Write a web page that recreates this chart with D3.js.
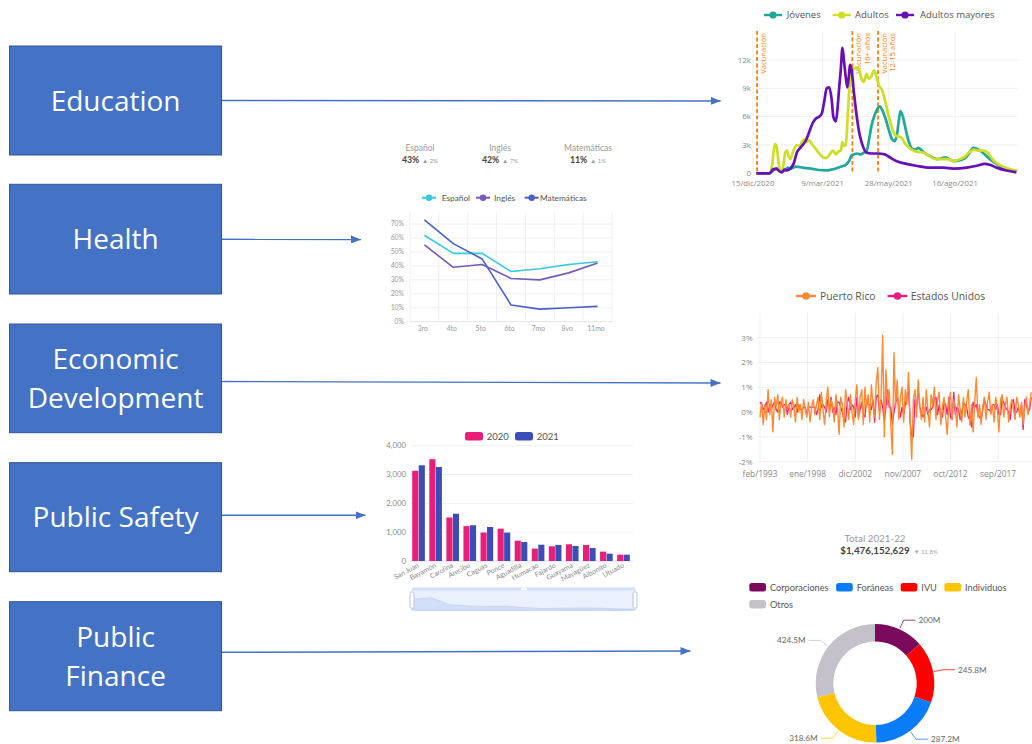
<!DOCTYPE html>
<html><head><meta charset="utf-8">
<script src="https://cdn.jsdelivr.net/npm/d3@7"></script>
<style>html,body{margin:0;padding:0;background:#fff}svg{display:block}</style>
</head><body>
<svg id="c" width="1032" height="744"></svg>
<script>
// ================= DATA =================
const sectorLabels = [["Education"],["Health"],["Economic","Development"],["Public Safety"],["Public","Finance"]];

// Education (vacunación COVID-19 por grupo de edad) — [días desde 15/dic/2020, miles]
const eduSeriesNames = ["Jóvenes","Adultos","Adultos mayores"];
const eduTickDays = [0,84,164,244];
const eduTickLabels = ["15/dic/2020","9/mar/2021","28/may/2021","16/ago/2021"];
const eduYTicks = [0,3,6,9,12];
const jovenes = [[4,0],[20,0],[26,0.4],[30,0.5],[34,0.25],[38,0.3],[42,0.6],[46,0.5],[52,0.7],[60,0.6],[70,0.5],[80,0.35],[88,0.3],[95,0.4],[100,0.5],[106,0.7],[112,0.9],[116,1.3],[119,1.9],[122,2.0],[126,2.1],[130,2.0],[134,2.2],[137,2.3],[140,3.5],[143,5.0],[147,6.2],[150,6.8],[153,7.1],[157,6.5],[160,5.8],[164,4.6],[168,3.6],[171,3.4],[174,4.2],[176,5.5],[178,6.6],[181,6.0],[184,4.8],[188,3.4],[192,2.6],[196,2.5],[200,2.7],[205,2.3],[210,2.0],[214,1.8],[222,1.5],[228,1.6],[232,1.7],[237,1.5],[242,1.3],[250,1.4],[256,1.6],[260,2.0],[263,2.4],[266,2.7],[270,2.6],[274,2.4],[280,2.0],[286,1.5],[294,1.0],[300,0.7],[306,0.5],[312,0.35],[319,0.25]];
const adultos = [[4,0],[20,0],[23,0.8],[25,2.4],[27,3.1],[29,2.6],[31,1.0],[33,0.3],[35,0.1],[37,1.0],[39,2.2],[41,2.4],[43,1.8],[45,1.5],[48,2.2],[51,2.8],[53,3.0],[56,2.9],[59,3.3],[62,3.6],[65,3.3],[68,3.5],[71,3.1],[75,2.7],[79,2.2],[83,1.8],[87,1.6],[91,1.8],[94,2.2],[97,2.4],[100,2.0],[103,2.3],[106,2.4],[108,3.3],[110,2.9],[112,3.0],[114,5.5],[116,8.5],[118,10.3],[121,11.0],[125,11.2],[128,11.0],[131,10.0],[134,9.7],[137,10.5],[140,10.0],[143,10.3],[146,10.9],[149,10.3],[152,9.3],[156,8.8],[160,7.5],[164,6.0],[168,4.8],[172,4.0],[176,3.9],[180,3.7],[184,3.1],[190,2.6],[197,2.3],[205,2.2],[212,1.9],[220,1.5],[228,1.5],[235,1.5],[242,1.3],[250,1.5],[256,1.8],[262,2.3],[267,2.5],[272,2.4],[278,2.4],[282,2.3],[286,1.9],[290,1.4],[296,1.0],[302,0.7],[308,0.5],[314,0.35],[319,0.3]];
const mayores = [[4,0],[20,0],[24,0.4],[28,0.5],[32,0.2],[35,0.1],[38,0.4],[41,0.3],[45,0.5],[49,1.0],[53,2.2],[57,2.7],[61,3.1],[64,3.5],[68,4.4],[72,5.3],[76,5.8],[80,6.0],[83,6.3],[86,7.6],[89,9.0],[92,9.1],[95,7.8],[97,6.0],[100,5.5],[102,6.8],[104,9.0],[106,11.0],[108,13.3],[110,11.8],[112,10.2],[114,9.1],[116,10.5],[117,11.5],[119,11.0],[122,8.5],[125,6.2],[129,4.0],[133,2.8],[137,2.2],[143,2.1],[151,2.1],[159,2.0],[165,1.7],[173,1.3],[185,1.0],[197,0.8],[214,0.6],[230,0.6],[242,0.5],[258,0.6],[270,0.8],[280,1.0],[286,0.9],[294,0.6],[306,0.3],[318,0.1]];
const vacDays = [5,120,151];
const vacLabels = [["Vacunación"],["Vacunación","16+ años"],["Vacunación","12-15 años"]];

// Health (aprovechamiento por grado)
const kpiNames = ["Español","Inglés","Matemáticas"];
const kpiValues = ["43%","42%","11%"];
const kpiDeltas = ["2%","7%","1%"];
const grades = ["3ro","4to","5to","6to","7mo","8vo","11mo"];
const espanol = [0.62,0.49,0.49,0.36,0.38,0.41,0.43];
const ingles = [0.55,0.39,0.41,0.31,0.30,0.35,0.42];
const matematicas = [0.73,0.56,0.45,0.12,0.09,0.10,0.11];
const healthYTicks = [0,0.1,0.2,0.3,0.4,0.5,0.6,0.7];

// Economic Development (cambio mensual IPC, %), cada dos meses desde feb/1993
const econSeriesNames = ["Puerto Rico","Estados Unidos"];
const econTickMonths = [0,59,118,177,236,295];
const econTickLabels = ["feb/1993","ene/1998","dic/2002","nov/2007","oct/2012","sep/2017"];
const econYTicks = [-2,-1,0,1,2,3];
const puertoRico = [
 -0.2,0.4,-0.5,0.3,-0.3,0.9, -0.1,0.5,-0.8,0.6,0.2,0.7, -0.3,0.4,0.6,-0.2,0.5,0.1, 0.3,-0.2,0.5,0.2,-0.4,0.6,
 0.0,0.3,-0.3,0.5,0.1,-0.2, 0.4,-0.4,0.2,0.5,-0.1,0.3, 0.6,-0.3,0.8,0.1,-0.5,0.4, 1.0,-0.2,0.5,0.3,-0.4,0.7,
 0.2,-0.9,0.6,0.3,-0.6,0.9, 0.4,-0.3,0.7,0.0,-0.5,0.5, 1.1,-0.3,0.6,0.9,-0.5,1.0, 0.2,0.7,-0.4,1.1,0.3,-0.2,
 1.2,1.8,-0.3,0.6,3.1,-1.0, 1.7,0.3,0.9,-0.5,-1.7,2.4, 0.2,1.3,-0.3,0.6,1.0,-0.4, 0.9,0.3,1.6,-0.4,-1.9,0.5,
 0.9,-0.2,1.3,0.2,-0.3,0.6, -0.4,0.9,0.1,-0.6,0.7,0.3, 1.0,-0.3,0.5,0.8,-0.5,0.2, 0.6,-0.2,-0.9,0.4,0.8,-0.3,
 0.5,0.2,-0.6,0.7,0.1,-0.4, 0.6,-0.2,0.4,0.9,-0.5,0.3, -0.8,0.4,1.4,-0.2,0.3,-0.5, 0.2,0.6,-0.3,0.4,0.8,-0.1,
 0.3,-0.4,0.6,0.2,-0.8,0.5, 0.7,-0.2,0.3,0.6,-0.4,0.2, 0.5,0.1,-0.3,0.6,0.3,-0.2, 0.4,-0.5,0.2,0.6,-0.1,0.3,
 0.8];
const estadosUnidos = [
 0.4,0.3,0.1,0.2,0.4,0.0, 0.3,0.1,0.3,0.4,0.1,0.0, 0.4,0.4,0.2,0.3,0.3,-0.1, 0.3,0.4,0.1,0.2,0.3,0.0,
 0.3,0.1,0.1,0.2,0.2,-0.1, 0.2,0.2,0.2,0.2,0.2,-0.1, 0.1,0.7,0.2,0.3,0.2,0.0, 0.5,0.1,0.6,0.0,0.2,-0.1,
 0.4,0.4,0.2,0.0,-0.3,-0.4, 0.4,0.6,0.1,0.3,0.2,-0.2, 0.6,-0.2,0.1,0.4,-0.1,-0.2, 0.5,0.3,0.3,0.1,0.5,-0.4,
 0.6,0.7,0.0,0.5,0.2,-0.4, 0.2,0.9,0.2,0.2,-0.5,0.0, 0.4,0.6,0.2,-0.2,0.2,-0.1, 0.3,0.6,1.0,-0.4,-1.0,-1.0,
 0.5,0.2,0.9,0.2,0.0,-0.2, 0.0,0.2,-0.1,0.1,0.1,0.2, 0.5,0.6,-0.1,0.3,-0.2,-0.2, 0.4,0.3,-0.1,0.6,-0.2,-0.3,
 0.8,-0.1,0.2,0.1,-0.3,0.0, 0.4,0.3,0.2,-0.2,-0.3,-0.6, 0.4,0.2,0.3,-0.1,-0.2,-0.3, 0.1,0.5,0.3,0.1,0.1,0.0,
 0.3,0.3,0.1,0.3,-0.1,-0.1, 0.5,0.4,0.2,0.1,0.0,-0.3, 0.4,0.5,0.0,0.0,0.2,-0.1, 0.3,-0.7,0.5,0.3,0.0,0.1,
 0.6];

// Public Safety (incidentes por municipio)
const barYears = ["2020","2021"];
const municipios = ["San Juan","Bayamón","Carolina","Arecibo","Caguas","Ponce","Aguadilla","Humacao","Fajardo","Guayama","Mayagüez","Aibonito","Utuado"];
const incid2020 = [3130,3530,1510,1210,990,1120,705,430,510,580,555,325,220];
const incid2021 = [3320,3260,1640,1240,1180,985,660,565,555,520,450,255,220];
const barYTicks = [0,1000,2000,3000,4000];

// Public Finance (recaudos 2021-22, millones)
const totalLabel = "Total 2021-22";
const totalValue = "$1,476,152,629";
const totalDelta = "11.8%";
const fuentes = ["Corporaciones","Foráneas","IVU","Individuos","Otros"];
const recaudos = [200,287.2,245.8,318.6,424.5];

// ================= STYLES / LAYOUT =================
const FP = "'Open Sans', sans-serif", FL = "Lato, sans-serif";
const BLUE = "#4472C4";
const eduColors = ["#1fa89b","#cfde22","#6610b5"];
const healthColors = ["#33cbe2","#7659b8","#4a60c9"];
const econColors = ["#ff8a33","#e91e7e"];
const barColors = ["#e91e78","#3d4db7"];
const pieColors = {"Corporaciones":"#7b0a5c","Foráneas":"#0b7cf8","IVU":"#ff0000","Individuos":"#ffc500","Otros":"#c4c1cb"};
const AX = "#8a8a8a", GRID = "#efefef";

const svg = d3.select("#c");

// ---------- Left boxes + arrows ----------
const boxLayout = [
 {y:46, h:109, ay:100.5, tip:[720.7,101]},
 {y:184.3, h:109.7, ay:239.3, tip:[361,239.5]},
 {y:324, h:108.7, ay:381.5, tip:[720.5,383]},
 {y:462.7, h:109, ay:515.3, tip:[365.5,515.3]},
 {y:601.7, h:109, ay:652.3, tip:[690.5,651]}
];
svg.append("defs").append("marker").attr("id","ah").attr("viewBox","0 0 10 8")
  .attr("refX",10).attr("refY",4).attr("markerWidth",10).attr("markerHeight",8)
  .attr("markerUnits","userSpaceOnUse").attr("orient","auto")
  .append("path").attr("d","M0,0L10,4L0,8Z").attr("fill",BLUE);
const bg = svg.append("g");
boxLayout.forEach((b,i)=>{
  bg.append("line").attr("x1",222).attr("y1",b.ay).attr("x2",b.tip[0]).attr("y2",b.tip[1])
    .attr("stroke",BLUE).attr("stroke-width",1.4).attr("marker-end","url(#ah)");
  bg.append("rect").attr("x",9.5).attr("y",b.y).attr("width",212).attr("height",b.h)
    .attr("fill",BLUE).attr("stroke","#2f5597").attr("stroke-width",1);
  const cy = b.y + b.h/2;
  const lines = sectorLabels[i];
  lines.forEach((t,j)=>{
    const base = lines.length===1 ? cy+10 : cy - 9.6 + j*39.2;
    bg.append("text").attr("x",115.6).attr("y",base).attr("text-anchor","middle")
      .attr("font-family",FP).attr("font-size",28).attr("fill","#fff").text(t);
  });
});

function legendEntry(g, cx, y, color, label, font, size, half, r, tx, lw){
  g.append("line").attr("x1",cx-half).attr("x2",cx+half).attr("y1",y).attr("y2",y)
    .attr("stroke",color).attr("stroke-width",lw||2);
  g.append("circle").attr("cx",cx).attr("cy",y).attr("r",r).attr("fill",color);
  g.append("text").attr("x",tx).attr("y",y).attr("dy","0.35em").attr("font-family",font)
    .attr("font-size",size).attr("fill","#555").text(label);
}

// ---------- Education chart ----------
{
  const g = svg.append("g");
  const x = d3.scaleLinear().domain([0,320]).range([753,1018]);
  const y = d3.scaleLinear().domain([0,15]).range([173.3,31.7]);
  eduYTicks.filter(d=>d>0).forEach(t=>g.append("line").attr("x1",755).attr("x2",1018)
    .attr("y1",y(t)).attr("y2",y(t)).attr("stroke",GRID));
  eduTickDays.forEach(t=>g.append("line").attr("x1",x(t)).attr("x2",x(t))
    .attr("y1",31.7).attr("y2",173.3).attr("stroke",GRID));
  eduYTicks.forEach(t=>g.append("text").attr("x",751).attr("y",y(t)).attr("dy","0.35em")
    .attr("text-anchor","end").attr("font-family",FP).attr("font-size",8).attr("fill",AX)
    .text(t===0?"0":t+"k"));
  eduTickDays.forEach((t,i)=>g.append("text").attr("x",x(t)).attr("y",185.5)
    .attr("text-anchor","middle").attr("font-family",FP).attr("font-size",7.8).attr("fill",AX)
    .text(eduTickLabels[i]));
  // vaccination markers
  vacDays.forEach((d,i)=>{
    g.append("line").attr("x1",x(d)).attr("x2",x(d)).attr("y1",31).attr("y2",173.3)
      .attr("stroke","#ff7f0e").attr("stroke-width",1.8).attr("stroke-dasharray","4,2.5");
    const tg = g.append("g").attr("transform",`translate(${x(d)+6},33) rotate(-90)`);
    vacLabels[i].forEach((t,j)=>tg.append("text").attr("x",0).attr("y",j*8.3)
      .attr("dominant-baseline","central").attr("text-anchor","end")
      .attr("font-family",FP).attr("font-size",7.6).attr("fill","#ff7f0e").text(t));
  });
  const line = d3.line().x(d=>x(d[0])).y(d=>y(d[1])).curve(d3.curveMonotoneX);
  [jovenes,adultos,mayores].forEach((s,i)=>g.append("path").attr("d",line(s))
    .attr("fill","none").attr("stroke",eduColors[i]).attr("stroke-width",2.7)
    .attr("stroke-linejoin","round"));
  const lx = [[773,786.7],[841.7,855],[905,920]];
  eduSeriesNames.forEach((n,i)=>legendEntry(g,lx[i][0],15,eduColors[i],n,FP,9.5,9,3.6,lx[i][1],2.4));
}

// ---------- Health chart ----------
{
  const g = svg.append("g");
  const kx = [420,500,588];
  kpiNames.forEach((n,i)=>{
    g.append("text").attr("x",kx[i]).attr("y",150.5).attr("text-anchor","middle")
      .attr("font-family",FL).attr("font-size",8.5).attr("fill","#999").text(n);
    const t = g.append("text").attr("x",kx[i]).attr("y",163).attr("text-anchor","middle").attr("font-family",FL);
    t.append("tspan").attr("font-size",8.8).attr("font-weight","bold").attr("fill","#444").text(kpiValues[i]);
    t.append("tspan").attr("font-size",6).attr("fill","#999").attr("dx",3).text("▲ "+kpiDeltas[i]);
  });
  const x = d3.scaleBand().domain(grades).range([410,612]);
  const y = d3.scaleLinear().domain([0,0.78]).range([321.7,212.9]);
  healthYTicks.forEach(t=>g.append("line").attr("x1",410).attr("x2",612).attr("y1",y(t)).attr("y2",y(t))
    .attr("stroke",t===0?"#e3e3e3":GRID));
  d3.range(grades.length+1).forEach(i=>{
    const xx = 410 + i*x.step();
    g.append("line").attr("x1",xx).attr("x2",xx).attr("y1",212.9).attr("y2",321.7).attr("stroke",GRID);
  });
  healthYTicks.forEach(t=>g.append("text").attr("x",404).attr("y",y(t)).attr("dy","0.35em")
    .attr("text-anchor","end").attr("font-family",FL).attr("font-size",6.8).attr("fill","#9a9a9a")
    .text(Math.round(t*100)+"%"));
  grades.forEach(gr=>g.append("text").attr("x",x(gr)+x.bandwidth()/2-1.5).attr("y",330.5)
    .attr("text-anchor","middle").attr("font-family",FL).attr("font-size",6.8).attr("fill","#9a9a9a").text(gr));
  const line = d3.line().x((d,i)=>x(grades[i])+x.bandwidth()/2).y(d=>y(d));
  [espanol,ingles,matematicas].forEach((s,i)=>g.append("path").attr("d",line(s)).attr("fill","none")
    .attr("stroke",healthColors[i]).attr("stroke-width",1.6).attr("stroke-linejoin","round"));
  const lx = [[429,441.7],[483,494],[531.7,540]];
  kpiNames.forEach((n,i)=>legendEntry(g,lx[i][0],197.7,healthColors[i],n,FL,8.3,7,3.2,lx[i][1],2));
}

// ---------- Economic chart ----------
{
  const g = svg.append("g");
  const x = d3.scaleLinear().domain([0,336]).range([760,1031.2]);
  const y = d3.scaleLinear().domain([-2,4]).range([461.7,312.9]);
  econYTicks.forEach(t=>g.append("line").attr("x1",757).attr("x2",1032).attr("y1",y(t)).attr("y2",y(t)).attr("stroke",GRID));
  econTickMonths.forEach(t=>g.append("line").attr("x1",x(t)).attr("x2",x(t)).attr("y1",312.9).attr("y2",461.7).attr("stroke",GRID));
  econYTicks.forEach(t=>g.append("text").attr("x",752.5).attr("y",y(t)).attr("dy","0.35em")
    .attr("text-anchor","end").attr("font-family",FP).attr("font-size",8).attr("fill",AX).text(t+"%"));
  econTickMonths.forEach((t,i)=>g.append("text").attr("x",x(t)).attr("y",477.3)
    .attr("text-anchor","middle").attr("font-family",FP).attr("font-size",8.4).attr("fill",AX).text(econTickLabels[i]));
  const line = d3.line().x((d,i)=>x(i*2)).y(d=>y(d));
  g.append("path").attr("d",line(estadosUnidos)).attr("fill","none").attr("stroke",econColors[1]).attr("stroke-width",1.3).attr("stroke-linejoin","round");
  g.append("path").attr("d",line(puertoRico)).attr("fill","none").attr("stroke",econColors[0]).attr("stroke-width",1.4).attr("stroke-linejoin","round");
  const lx = [[806,820],[897.5,910.7]];
  econSeriesNames.forEach((n,i)=>legendEntry(g,lx[i][0],296,econColors[i],n,FP,10.4,10,3.8,lx[i][1],2.4));
}

// ---------- Public Safety bar chart ----------
{
  const g = svg.append("g");
  const x0 = d3.scaleBand().domain(municipios).range([410,632]).paddingInner(0.26).paddingOuter(0.13);
  const x1 = d3.scaleBand().domain(barYears).range([0,x0.bandwidth()]).paddingInner(0.06);
  const y = d3.scaleLinear().domain([0,4000]).range([561,445.7]);
  barYTicks.forEach(t=>g.append("line").attr("x1",410).attr("x2",633).attr("y1",y(t)).attr("y2",y(t))
    .attr("stroke",t===0?"#dcdcdc":GRID));
  barYTicks.forEach(t=>g.append("text").attr("x",406).attr("y",y(t)).attr("dy","0.35em").attr("text-anchor","end")
    .attr("font-family",FL).attr("font-size",7.8).attr("fill","#8a8a8a").text(d3.format(",")(t)));
  const series = [incid2020,incid2021];
  municipios.forEach((m,i)=>{
    barYears.forEach((yr,k)=>{
      const v = series[k][i];
      g.append("rect").attr("x",x0(m)+x1(yr)).attr("y",y(v)).attr("width",x1.bandwidth())
        .attr("height",y(0)-y(v)).attr("fill",barColors[k]);
    });
    const cx = x0(m)+x0.bandwidth()/2;
    g.append("text").attr("transform",`translate(${cx},565) rotate(-28)`).attr("text-anchor","end")
      .attr("dy","0.3em").attr("font-family",FL).attr("font-size",7).attr("fill","#8a8a8a").text(m);
  });
  // legend
  const lg = [[465,486.7],[515,536.7]];
  barYears.forEach((yr,k)=>{
    g.append("rect").attr("x",lg[k][0]).attr("y",432).attr("width",18).attr("height",8.5).attr("rx",2.5).attr("fill",barColors[k]);
    g.append("text").attr("x",lg[k][1]).attr("y",436.3).attr("dy","0.35em").attr("font-family",FL)
      .attr("font-size",9.5).attr("fill","#555").text(yr);
  });
  // data zoom slider
  g.append("rect").attr("x",412).attr("y",589.5).attr("width",223).attr("height",21).attr("fill","#eaf0fc").attr("stroke","#d5e0f7");
  g.append("rect").attr("x",412).attr("y",587.5).attr("width",223).attr("height",3).attr("fill","#d3def8");
  const sx = d3.scalePoint().domain(municipios).range([413,634]);
  const sy = d3.scaleLinear().domain([0,3600]).range([610,597.5]);
  const area = d3.area().x((d,i)=>sx(municipios[i])).y0(610).y1(d=>sy(d));
  g.append("path").attr("d",area(incid2020)).attr("fill","#d2dff8").attr("stroke","#b7cbf2").attr("stroke-width",0.6);
  [412,635].forEach(hx=>g.append("rect").attr("x",hx-2).attr("y",592).attr("width",4).attr("height",16).attr("rx",1.5)
    .attr("fill","#fff").attr("stroke","#a8bbe0").attr("stroke-width",0.8));
  g.append("rect").attr("x",521).attr("y",587.8).attr("width",6).attr("height",2.4).attr("rx",1).attr("fill","#fff");
}

// ---------- Public Finance donut ----------
{
  const g = svg.append("g");
  g.append("text").attr("x",875).attr("y",541.5).attr("text-anchor","middle").attr("font-family",FL)
    .attr("font-size",9.8).attr("fill","#999").text(totalLabel);
  const t = g.append("text").attr("x",889).attr("y",554.3).attr("text-anchor","middle").attr("font-family",FL);
  t.append("tspan").attr("font-size",9.8).attr("font-weight","bold").attr("fill","#444").text(totalValue);
  t.append("tspan").attr("font-size",6).attr("fill","#aaa").attr("dx",4).text("▼ "+totalDelta);
  // legend
  let lx = 749.3, ly = 587.3;
  fuentes.forEach((f,i)=>{
    if(i===4){ lx = 749.3; ly = 604.3; }
    g.append("rect").attr("x",lx).attr("y",ly-4.3).attr("width",16.7).attr("height",8.6).attr("rx",2.5).attr("fill",pieColors[f]);
    const tt = g.append("text").attr("x",lx+20.7).attr("y",ly).attr("dy","0.35em").attr("font-family",FL)
      .attr("font-size",9.2).attr("fill","#555").text(f);
    lx += 20.7 + tt.node().getComputedTextLength() + 7.5;
  });
  const cx = 875, cy = 683.3, rO = 59.3, rI = 41.7;
  const data = fuentes.map((f,i)=>({name:f,value:recaudos[i]}));
  const arcs = d3.pie().value(d=>d.value).sort((a,b)=>a.value-b.value)(data);
  const arc = d3.arc().innerRadius(rI).outerRadius(rO);
  const pg = g.append("g").attr("transform",`translate(${cx},${cy})`);
  pg.selectAll("path").data(arcs).join("path").attr("d",arc).attr("fill",d=>pieColors[d.data.name]);
  arcs.forEach(a=>{
    const ang = (a.startAngle+a.endAngle)/2;
    const sx = Math.sin(ang), sy = -Math.cos(ang);
    const p1 = [ (rO+1)*sx, (rO+1)*sy ], p2 = [ (rO+10)*sx, (rO+10)*sy ];
    const right = sx >= 0;
    const p3 = [ p2[0] + (right?12:-12), p2[1] ];
    pg.append("path").attr("d",`M${p1}L${p2}L${p3}`).attr("fill","none")
      .attr("stroke",pieColors[a.data.name]).attr("stroke-width",1).attr("opacity",0.75);
    pg.append("text").attr("x",p3[0]+(right?3:-3)).attr("y",p3[1]).attr("dy","0.35em")
      .attr("text-anchor",right?"start":"end").attr("font-family",FL).attr("font-size",8.2).attr("fill","#666")
      .text(a.data.value+"M");
  });
}
</script>
</body></html>
